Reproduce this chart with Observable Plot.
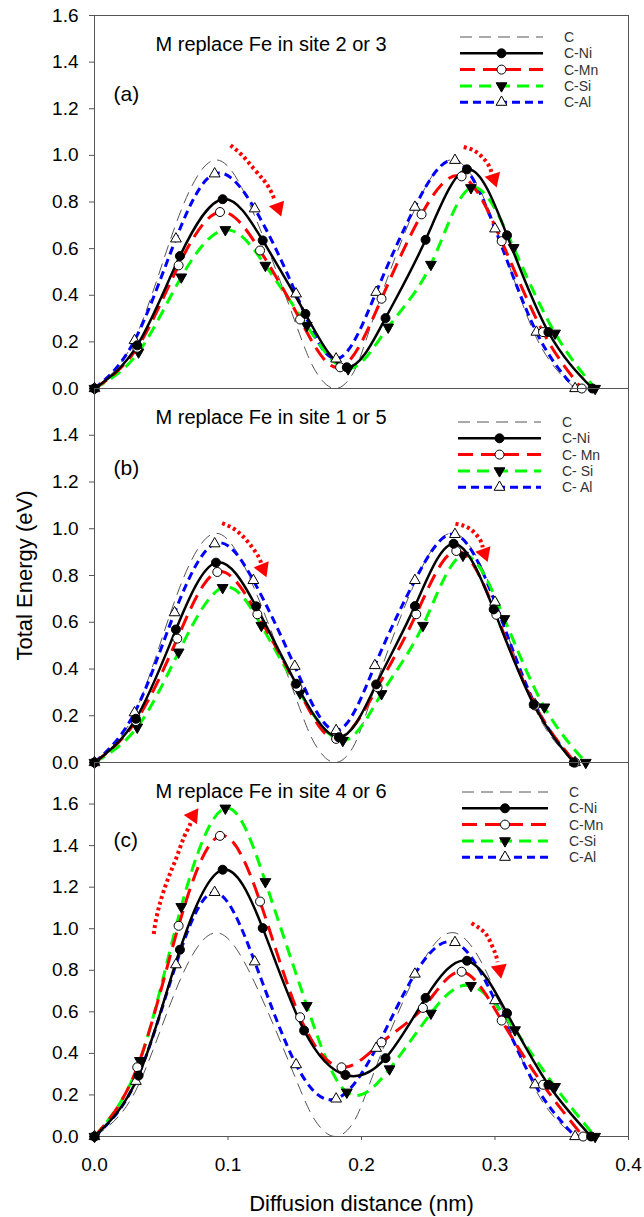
<!DOCTYPE html>
<html><head><meta charset="utf-8">
<script src="https://cdn.jsdelivr.net/npm/d3@7"></script>
<script src="https://cdn.jsdelivr.net/npm/@observablehq/plot@0.6"></script>
<style>
body{margin:0;background:#fff;}
#chart{position:relative;width:644px;height:1217px;font-family:"Liberation Sans",Arial,sans-serif;}
#chart svg{position:absolute;left:0;overflow:visible;}
</style></head><body><div id="chart"></div>
<script>
// ---------- data (x: diffusion distance nm, y: total energy eV) ----------
const seriesNames = ["C", "C-Ni", "C-Mn", "C-Si", "C-Al"];
const legendLabelsA = ["C", "C-Ni", "C-Mn", "C-Si", "C-Al"];
const legendLabelsB = ["C", "C-Ni", "C- Mn", "C- Si", "C- Al"];
const legendLabelsC = ["C", "C-Ni", "C-Mn", "C-Si", "C-Al"];
const panelTitles = ["M replace Fe in site 2 or 3", "M replace Fe in site 1 or 5", "M replace Fe in site 4 or 6"];
const panelTags = ["(a)", "(b)", "(c)"];
const xTitle = "Diffusion distance (nm)";
const yTitle = "Total Energy (eV)";
const xTicks = [0, 0.1, 0.2, 0.3, 0.4];
const yTicksA = [0, 0.2, 0.4, 0.6, 0.8, 1.0, 1.2, 1.4, 1.6];
const yTicksB = [0, 0.2, 0.4, 0.6, 0.8, 1.0, 1.2, 1.4];
const yTicksC = [0, 0.2, 0.4, 0.6, 0.8, 1.0, 1.2, 1.4, 1.6];

// reference C curve (no markers)
const cCurve = [[0,0],[0.03,0.21],[0.06,0.69],[0.09,0.98],[0.12,0.74],[0.15,0.29],[0.165,0.08],[0.18,0.0],[0.195,0.08],[0.21,0.32],[0.24,0.77],[0.27,0.98],[0.30,0.70],[0.33,0.23],[0.36,0.0]];

// panel (a)
const aNi = [[0,0],[0.032,0.185],[0.064,0.568],[0.096,0.812],[0.126,0.635],[0.158,0.320],[0.189,0.091],[0.218,0.302],[0.248,0.638],[0.279,0.940],[0.309,0.657],[0.340,0.242],[0.373,0.0]];
const aMn = [[0,0],[0.032,0.175],[0.063,0.528],[0.094,0.757],[0.124,0.592],[0.154,0.296],[0.184,0.091],[0.215,0.385],[0.245,0.747],[0.275,0.910],[0.305,0.632],[0.336,0.242],[0.365,0.0]];
const aSi = [[0,0],[0.033,0.156],[0.065,0.478],[0.098,0.681],[0.128,0.528],[0.159,0.270],[0.190,0.084],[0.220,0.263],[0.252,0.532],[0.282,0.861],[0.314,0.604],[0.345,0.237],[0.375,0.0]];
const aAl = [[0,0],[0.030,0.206],[0.061,0.642],[0.090,0.921],[0.120,0.771],[0.151,0.406],[0.181,0.127],[0.211,0.413],[0.240,0.778],[0.270,0.979],[0.300,0.685],[0.331,0.242],[0.360,0.0]];

// panel (b)
const bNi = [[0,0],[0.031,0.187],[0.061,0.569],[0.091,0.855],[0.121,0.668],[0.151,0.337],[0.183,0.108],[0.211,0.334],[0.240,0.669],[0.269,0.936],[0.299,0.655],[0.329,0.248],[0.359,0.0]];
const bMn = [[0,0],[0.031,0.177],[0.062,0.530],[0.092,0.815],[0.122,0.634],[0.152,0.322],[0.181,0.101],[0.212,0.322],[0.241,0.634],[0.271,0.905],[0.301,0.632],[0.330,0.244],[0.360,0.0]];
const bSi = [[0,0],[0.032,0.151],[0.063,0.472],[0.096,0.748],[0.125,0.586],[0.154,0.297],[0.186,0.094],[0.215,0.294],[0.246,0.586],[0.276,0.886],[0.307,0.615],[0.337,0.237],[0.368,0.0]];
const bAl = [[0,0],[0.030,0.213],[0.060,0.641],[0.090,0.936],[0.119,0.779],[0.150,0.412],[0.181,0.137],[0.210,0.415],[0.240,0.779],[0.270,0.976],[0.300,0.686],[0.330,0.248],[0.360,0.0]];

// panel (c)
const cNi = [[0,0],[0.033,0.293],[0.064,0.899],[0.096,1.284],[0.126,1.003],[0.157,0.510],[0.188,0.296],[0.218,0.377],[0.248,0.667],[0.279,0.846],[0.309,0.593],[0.340,0.249],[0.372,0.0]];
const cMn = [[0,0],[0.032,0.333],[0.063,1.014],[0.094,1.447],[0.124,1.131],[0.154,0.574],[0.185,0.333],[0.215,0.453],[0.246,0.619],[0.275,0.793],[0.305,0.558],[0.336,0.249],[0.366,0.0]];
const cSi = [[0,0],[0.034,0.365],[0.065,1.106],[0.098,1.580],[0.128,1.226],[0.159,0.630],[0.189,0.213],[0.221,0.325],[0.252,0.593],[0.282,0.726],[0.315,0.513],[0.345,0.240],[0.375,0.0]];
const cAl = [[0,0],[0.031,0.266],[0.061,0.827],[0.090,1.175],[0.120,0.841],[0.151,0.346],[0.181,0.181],[0.211,0.425],[0.240,0.782],[0.270,0.934],[0.300,0.654],[0.330,0.249],[0.360,0.0]];

// red dotted arrows (annotation paths) and arrow heads [x, y, direction deg]
const arrowA1 = [[0.1019,1.043],[0.1106,1.000],[0.1193,0.943],[0.1268,0.893],[0.1318,0.850],[0.1345,0.815]];
const arrowA2 = [[0.2766,1.036],[0.2841,1.021],[0.2904,0.993],[0.2953,0.957],[0.2975,0.925]];
const headsA = [[0.1375,0.775,160],[0.2991,0.900,162]];
const arrowB1 = [[0.0956,1.024],[0.1043,1.000],[0.1118,0.964],[0.1181,0.921],[0.1231,0.878],[0.1248,0.852]];
const arrowB2 = [[0.2704,1.022],[0.2779,1.010],[0.2841,0.986],[0.2891,0.950],[0.2908,0.920]];
const headsB = [[0.1262,0.829,158],[0.2921,0.895,160]];
const arrowC1 = [[0.0444,0.975],[0.0457,1.031],[0.0482,1.103],[0.0519,1.183],[0.0569,1.271],[0.0619,1.351],[0.0669,1.439],[0.0706,1.487],[0.0722,1.515]];
const arrowC2 = [[0.2824,1.027],[0.2891,0.999],[0.2941,0.966],[0.2978,0.918],[0.3004,0.878],[0.3020,0.840]];
const headsC = [[0.0738,1.543,35],[0.3034,0.803,170]];

// ---------- styles ----------
const AXIS = "#555";
const FONT = "'Liberation Sans', Arial, sans-serif";
const sty = {
  "C":    {stroke:"#555", strokeWidth:1, dash:"12,7"},
  "C-Ni": {stroke:"#000", strokeWidth:2.5, dash:null, symbol:"circle", fill:"#000", r:4.5, rotate:0},
  "C-Mn": {stroke:"#ff0000", strokeWidth:3, dash:"15,8", symbol:"circle", fill:"#fff", r:4.5, rotate:0},
  "C-Si": {stroke:"#00ff00", strokeWidth:3, dash:"12,7", symbol:"triangle", fill:"#000", r:4, rotate:180},
  "C-Al": {stroke:"#0000ff", strokeWidth:3, dash:"8,5", symbol:"triangle", fill:"#fff", r:4, rotate:0}
};
const drawOrder = ["C-Al", "C-Si", "C-Mn", "C-Ni"];

const X = d => d[0], Y = d => d[1];

function makePanel(cfg) {
  const marks = [];
  marks.push(Plot.frame({stroke: AXIS}));
  marks.push(Plot.axisY({ticks: cfg.yTicks, tickSize: 5, tickPadding: 11, tickFormat: d3.format(".1f"), label: null, fontSize: 19, stroke: AXIS}));
  if (cfg.showX) {
    marks.push(Plot.axisX({ticks: xTicks, tickSize: 4, tickPadding: 17, tickFormat: d3.format(".1f"), label: null, fontSize: 19, stroke: AXIS}));
    marks.push(Plot.text([xTitle], {frameAnchor: "bottom", text: d => d, dy: 74, lineAnchor: "bottom", fontSize: 22}));
  }
  if (cfg.yTitle) {
    marks.push(Plot.text([yTitle], {frameAnchor: "left", text: d => d, rotate: -90, dx: -70, lineAnchor: "middle", textAnchor: "middle", fontSize: 22}));
  }
  marks.push(Plot.line(cCurve, {x: X, y: Y, curve: "natural", stroke: sty.C.stroke, strokeWidth: sty.C.strokeWidth, strokeDasharray: sty.C.dash, strokeLinecap: "butt"}));
  for (const name of drawOrder) {
    const s = sty[name];
    marks.push(Plot.line(cfg.data[name], {x: X, y: Y, curve: "natural", stroke: s.stroke, strokeWidth: s.strokeWidth, strokeDasharray: s.dash || undefined, strokeLinecap: "butt"}));
  }
  for (const name of drawOrder) {
    const s = sty[name];
    marks.push(Plot.dot(cfg.data[name], {x: X, y: Y, symbol: s.symbol, r: s.r, fill: s.fill, stroke: "#000", strokeWidth: 1, rotate: s.rotate}));
  }
  for (const arr of cfg.arrows) {
    marks.push(Plot.line(arr, {x: X, y: Y, curve: "natural", stroke: "#ff0000", strokeWidth: 4, strokeDasharray: "3,3", strokeLinecap: "butt"}));
  }
  marks.push(Plot.dot(cfg.heads, {x: X, y: Y, symbol: "triangle", r: 6, fill: "#ff0000", stroke: "none", rotate: d => d[2]}));
  marks.push(Plot.text([cfg.title], {frameAnchor: "top-left", text: d => d, dx: 61, dy: 35, lineAnchor: "bottom", textAnchor: "start", fontSize: 20}));
  marks.push(Plot.text([cfg.tag], {frameAnchor: "top-left", text: d => d, dx: 19, dy: cfg.tagDy, lineAnchor: "bottom", textAnchor: "start", fontSize: 21}));

  const svg = Plot.plot({
    width: 644, height: cfg.height,
    marginLeft: 94, marginRight: 16, marginTop: cfg.mt, marginBottom: cfg.mb,
    x: {domain: [0, 0.4], axis: null},
    y: {domain: cfg.domain, axis: null},
    style: {background: "transparent", fontFamily: FONT, fontSize: "19px", color: "#000", overflow: "visible"},
    marks
  });
  svg.style.top = cfg.top + "px";

  // legend
  const g = d3.select(svg).append("g").attr("font-family", FONT).attr("font-size", 14).attr("text-anchor", "start");
  const [lx0, lx1, tx] = cfg.legendX;
  cfg.legendLabels.forEach((lab, i) => {
    const name = seriesNames[i];
    const s = sty[name];
    const y = cfg.legendY0 + i * 16.3;
    g.append("line").attr("x1", lx0).attr("x2", lx1).attr("y1", y).attr("y2", y)
      .attr("stroke", s.stroke).attr("stroke-width", s.strokeWidth)
      .attr("stroke-dasharray", s.dash);
    if (s.symbol) {
      const sym = s.symbol === "circle" ? d3.symbolCircle : d3.symbolTriangle;
      g.append("path").attr("d", d3.symbol(sym, Math.PI * s.r * s.r)())
        .attr("transform", `translate(${(lx0 + lx1) / 2},${y}) rotate(${s.rotate})`)
        .attr("fill", s.fill).attr("stroke", "#000").attr("stroke-width", 1);
    }
    g.append("text").attr("x", tx).attr("y", y).attr("dy", "0.35em").attr("text-anchor", "start").attr("fill", "#333").text(lab);
  });
  return svg;
}

const chart = document.getElementById("chart");
chart.appendChild(makePanel({
  top: 0, height: 388, mt: 15, mb: 0, domain: [0, 1.6], yTicks: yTicksA,
  data: {"C-Ni": aNi, "C-Mn": aMn, "C-Si": aSi, "C-Al": aAl},
  arrows: [arrowA1, arrowA2], heads: headsA,
  title: panelTitles[0], tag: panelTags[0], tagDy: 85,
  legendLabels: legendLabelsA, legendX: [460, 543, 564], legendY0: 37
}));
chart.appendChild(makePanel({
  top: 388, height: 374, mt: 0, mb: 0, domain: [0, 1.6], yTicks: yTicksB, yTitle: true,
  data: {"C-Ni": bNi, "C-Mn": bMn, "C-Si": bSi, "C-Al": bAl},
  arrows: [arrowB1, arrowB2], heads: headsB,
  title: panelTitles[1], tag: panelTags[1], tagDy: 86,
  legendLabels: legendLabelsB, legendX: [458, 541, 562], legendY0: 34
}));
chart.appendChild(makePanel({
  top: 762, height: 455, mt: 0, mb: 81, domain: [0, 1.8], yTicks: yTicksC, showX: true,
  data: {"C-Ni": cNi, "C-Mn": cMn, "C-Si": cSi, "C-Al": cAl},
  arrows: [arrowC1, arrowC2], heads: headsC,
  title: panelTitles[2], tag: panelTags[2], tagDy: 84,
  legendLabels: legendLabelsC, legendX: [462, 548, 569], legendY0: 30
}));
</script></body></html>
